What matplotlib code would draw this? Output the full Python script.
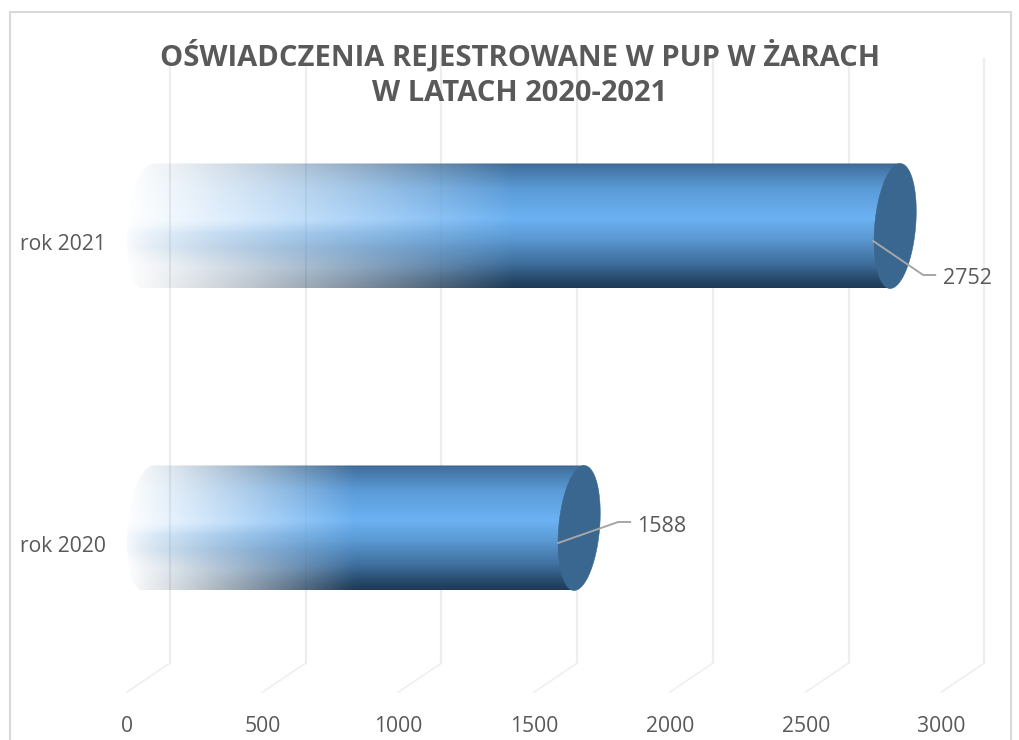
import numpy as np
import matplotlib
matplotlib.use("Agg")
import matplotlib.pyplot as plt
from matplotlib.colors import to_rgb
from matplotlib.patches import Polygon, Rectangle
from matplotlib.lines import Line2D
from matplotlib.transforms import Affine2D, IdentityTransform, blended_transform_factory

W, H = 1020, 740

title = "OŚWIADCZENIA REJESTROWANE W PUP W ŻARACH\nW LATACH 2020-2021"
categories = ["rok 2020", "rok 2021"]
values = [1588, 2752]
xticks = [0, 500, 1000, 1500, 2000, 2500, 3000]

plt.rcParams["font.family"] = ["Open Sans", "DejaVu Sans"]
TXT = "#595959"
GRID = "#ededed"
CAP = "#3a6790"

fig = plt.figure(figsize=(W / 100, H / 100), dpi=100)
# axes = the middle plane of the fake 3d box
ax = fig.add_axes([148 / W, (H - 679) / H, 814.5 / W, 604 / H])
ax.set_xlim(0, 3000)
ax.set_ylim(-0.5, 1.5)
ax.axis("off")

px = 3000 / 814.5  # data units per pixel in x
py = 2 / 604
RX = 20.5 * px
SKEW = 5 * px
BAR_H = 125 * py

# border of the chart area, bottom is cut off
fig.add_artist(Rectangle((10 / W, -0.05), 1001 / W, (H - 12) / H + 0.05, fill=False, ec="#d9d9d9", lw=1.5))

# back wall lines and floor lines
yspan = blended_transform_factory(ax.transData, ax.transAxes)
back = yspan + Affine2D().translate(22, 16)
for v in xticks:
    ax.add_line(Line2D([v, v], [0, 1], transform=back, color=GRID, lw=1.6, clip_on=False, zorder=1))
    p0 = yspan.transform((v, 0))
    ax.add_line(Line2D([p0[0] - 21, p0[0] + 22], [p0[1] - 13, p0[1] + 16], transform=IdentityTransform(),
                       color="#efefef", lw=1.2, clip_on=False, zorder=1))
    ax.annotate(str(v), xy=(v, -0.5), xytext=(-21, -48), textcoords="offset pixels",
                ha="center", va="center", color=TXT, fontsize=15.2)


def ellipse_pts(cx, cy, a, b):
    t = np.linspace(a, b, 80)
    return np.c_[cx + RX * np.cos(t) + SKEW * np.sin(t), cy + BAR_H / 2 * np.sin(t)]


# vertical shading of the cylinder, top to bottom
stops = [0, 0.02, 0.2, 0.44, 0.6, 0.8, 0.93, 1]
cols = ["#3a6288", "#41719f", "#5a9ad6", "#6cb2f3", "#5b9ad4", "#3f6f9e", "#274a6b", "#1f3a56"]
rgb = np.array([to_rgb(c) for c in cols])
v_frac = np.linspace(0, 1, 256)
profile = np.stack([np.interp(v_frac, stops, rgb[:, i]) for i in range(3)], axis=1)
# how fast each row fades in, the lower band comes in earlier
gamma = np.interp(v_frac, [0, 0.46, 0.56, 0.68, 0.84, 1], [1.1, 1.1, 0.72, 0.72, 1.1, 1.1])

for i, (cat, val) in enumerate(zip(categories, values)):
    x0 = -RX - SKEW
    t = np.linspace(0, 1, 512)
    ramp = np.clip(t / 0.5, 0, 1)
    img = np.zeros((256, 512, 4))
    img[..., :3] = profile[:, None, :]
    img[..., 3] = ramp[None, :] ** gamma[:, None]
    im = ax.imshow(img, extent=(x0, val + SKEW, i - BAR_H / 2, i + BAR_H / 2), aspect="auto",
                   interpolation="bilinear", zorder=2)
    outline = np.vstack([ellipse_pts(0, i, np.pi * 0.5, np.pi * 1.5), [[val - SKEW, i - BAR_H / 2]],
                         [[val + SKEW, i + BAR_H / 2]]])
    clip = Polygon(outline, closed=True, transform=ax.transData, fc="none", ec="none")
    ax.add_patch(clip)
    im.set_clip_box(fig.bbox)
    im.set_clip_path(clip)
    # end of the cylinder
    ax.add_patch(Polygon(ellipse_pts(val, i, 0, 2 * np.pi), closed=True, fc=CAP, ec=CAP, lw=0.4, zorder=3))
    # category label
    ax.annotate(cat, xy=(0, i), xytext=(-42, -18), textcoords="offset pixels",
                ha="right", va="center", color=TXT, fontsize=15.2)

ax.set_xlim(0, 3000)
ax.set_ylim(-0.5, 1.5)

# leader lines and label spots, pixel offsets from the end of the bar
leaders = [[(-21, -15), (39, 6), (51, 6)], [(-22, -15), (28, -49), (40, -49)]]
label_at = [(58, 1), (48, -53)]
for i, val in enumerate(values):
    cx, cy = ax.transData.transform((val, i))
    pts = leaders[i]
    ax.add_line(Line2D([cx + p[0] for p in pts], [cy + p[1] for p in pts], transform=IdentityTransform(),
                       color="#a6a6a6", lw=1.4, clip_on=False, zorder=4))
    ax.annotate(str(val), xy=(val, i), xytext=label_at[i], textcoords="offset pixels",
                ha="left", va="center", color=TXT, fontsize=15.5)

fig.text(520 / W, 1 - 74 / H, title, ha="center", va="center", color=TXT, fontsize=21, fontweight="bold", linespacing=1.32)

fig.savefig("out.png", dpi=100)
